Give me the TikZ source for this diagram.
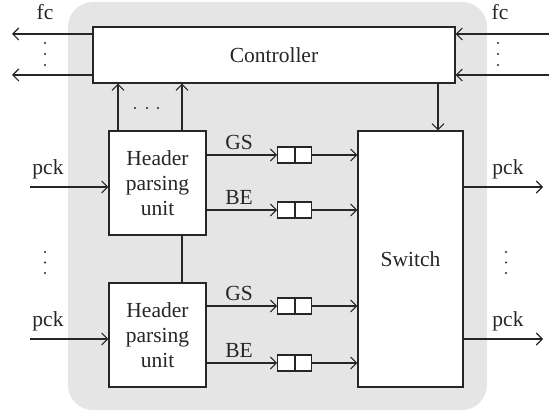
\documentclass[tikz,border=0pt]{standalone}
\usepackage{fontspec}
\setmainfont{Liberation Serif}
\usetikzlibrary{arrows.meta}
\begin{document}
\begin{tikzpicture}[x=1pt,y=-1pt,
  every node/.style={font=\fontsize{21.5}{25}\selectfont, text=black!85},
  box/.style={draw=black!85, fill=white, line width=1.1pt, inner sep=0pt},
  cell/.style={box, minimum width=16.5pt, minimum height=16pt},
  arr/.style={draw=black!85, line width=1.1pt, -{Straight Barb[length=6pt,width=12pt,line width=1.1pt]}},
  ln/.style={draw=black!85, line width=1.1pt},
  dot/.style={fill=black!85}]
\useasboundingbox (0,0) rectangle (549,412);
\fill[gray!20, rounded corners=25pt] (68,2) rectangle (487,410);

\node[box, minimum width=362pt, minimum height=56pt] (ctrl) at (274,55) {Controller};
\node[box, minimum width=97pt, minimum height=104pt, align=center] (h1) at (157.5,183) {Header\\parsing\\unit};
\node[box, minimum width=97pt, minimum height=104pt, align=center] (h2) at (157.5,335) {Header\\parsing\\unit};
\node[box, minimum width=105pt, minimum height=256pt] (sw) at (410.5,259) {Switch};

% queues
\node[cell] (q1a) at (286,155) {};
\node[cell, anchor=west] (q1b) at (q1a.east) {};
\node[cell] (q2a) at (286,210) {};
\node[cell, anchor=west] (q2b) at (q2a.east) {};
\node[cell] (q3a) at (286,306) {};
\node[cell, anchor=west] (q3b) at (q3a.east) {};
\node[cell] (q4a) at (286,363) {};
\node[cell, anchor=west] (q4b) at (q4a.east) {};

\draw[arr] (h1.east |- q1a.west) -- (q1a.west);
\draw[arr] (q1b.east) -- (sw.west |- q1b.east);
\draw[arr] (h1.east |- q2a.west) -- (q2a.west);
\draw[arr] (q2b.east) -- (sw.west |- q2b.east);
\draw[arr] (h2.east |- q3a.west) -- (q3a.west);
\draw[arr] (q3b.east) -- (sw.west |- q3b.east);
\draw[arr] (h2.east |- q4a.west) -- (q4a.west);
\draw[arr] (q4b.east) -- (sw.west |- q4b.east);

\node (gs1) at (239,142) {GS};
\node (be1) at (239,197) {BE};
\node (gs2) at (239,293) {GS};
\node (be2) at (239,350) {BE};

% header to controller
\coordinate (ua) at (118,0);
\coordinate (ub) at (182,0);
\draw[arr] (ua |- h1.north) -- (ua |- ctrl.south);
\draw[arr] (ub |- h1.north) -- (ub |- ctrl.south);
\draw[ln] (ub |- h1.south) -- (ub |- h2.north);
\coordinate (da) at (438,0);
\draw[arr] (da |- ctrl.south) -- (da |- sw.north);

% fc
\coordinate (fl1) at (12,34);
\coordinate (fl2) at (12,75);
\coordinate (fr1) at (549,34);
\coordinate (fr2) at (549,75);
\draw[arr] (fl1 -| ctrl.west) -- (fl1);
\draw[arr] (fl2 -| ctrl.west) -- (fl2);
\draw[arr] (fr1) -- (fr1 -| ctrl.east);
\draw[arr] (fr2) -- (fr2 -| ctrl.east);
\node (fcl) at (45,12) {fc};
\node (fcr) at (500,12) {fc};

% pck
\coordinate (pl1) at (30,187);
\coordinate (pl2) at (30,339);
\coordinate (pr1) at (543,187);
\coordinate (pr2) at (543,339);
\draw[arr] (pl1) -- (pl1 -| h1.west);
\draw[arr] (pl2) -- (pl2 -| h2.west);
\draw[arr] (pr1 -| sw.east) -- (pr1);
\draw[arr] (pr2 -| sw.east) -- (pr2);
\node (pkl1) at (48,169) {pck};
\node (pkl2) at (48,321) {pck};
\node (pkr1) at (508,169) {pck};
\node (pkr2) at (508,321) {pck};

% dots
\foreach \y in {43,54,65} {\fill[dot] (45,\y) circle (1.2pt); \fill[dot] (498,\y) circle (1.2pt);}
\foreach \y in {252,262.5,273} {\fill[dot] (45,\y) circle (1.2pt); \fill[dot] (506,\y) circle (1.2pt);}
\foreach \x in {135,147,158} {\fill[dot] (\x,108) circle (1.2pt);}
\end{tikzpicture}
\end{document}
